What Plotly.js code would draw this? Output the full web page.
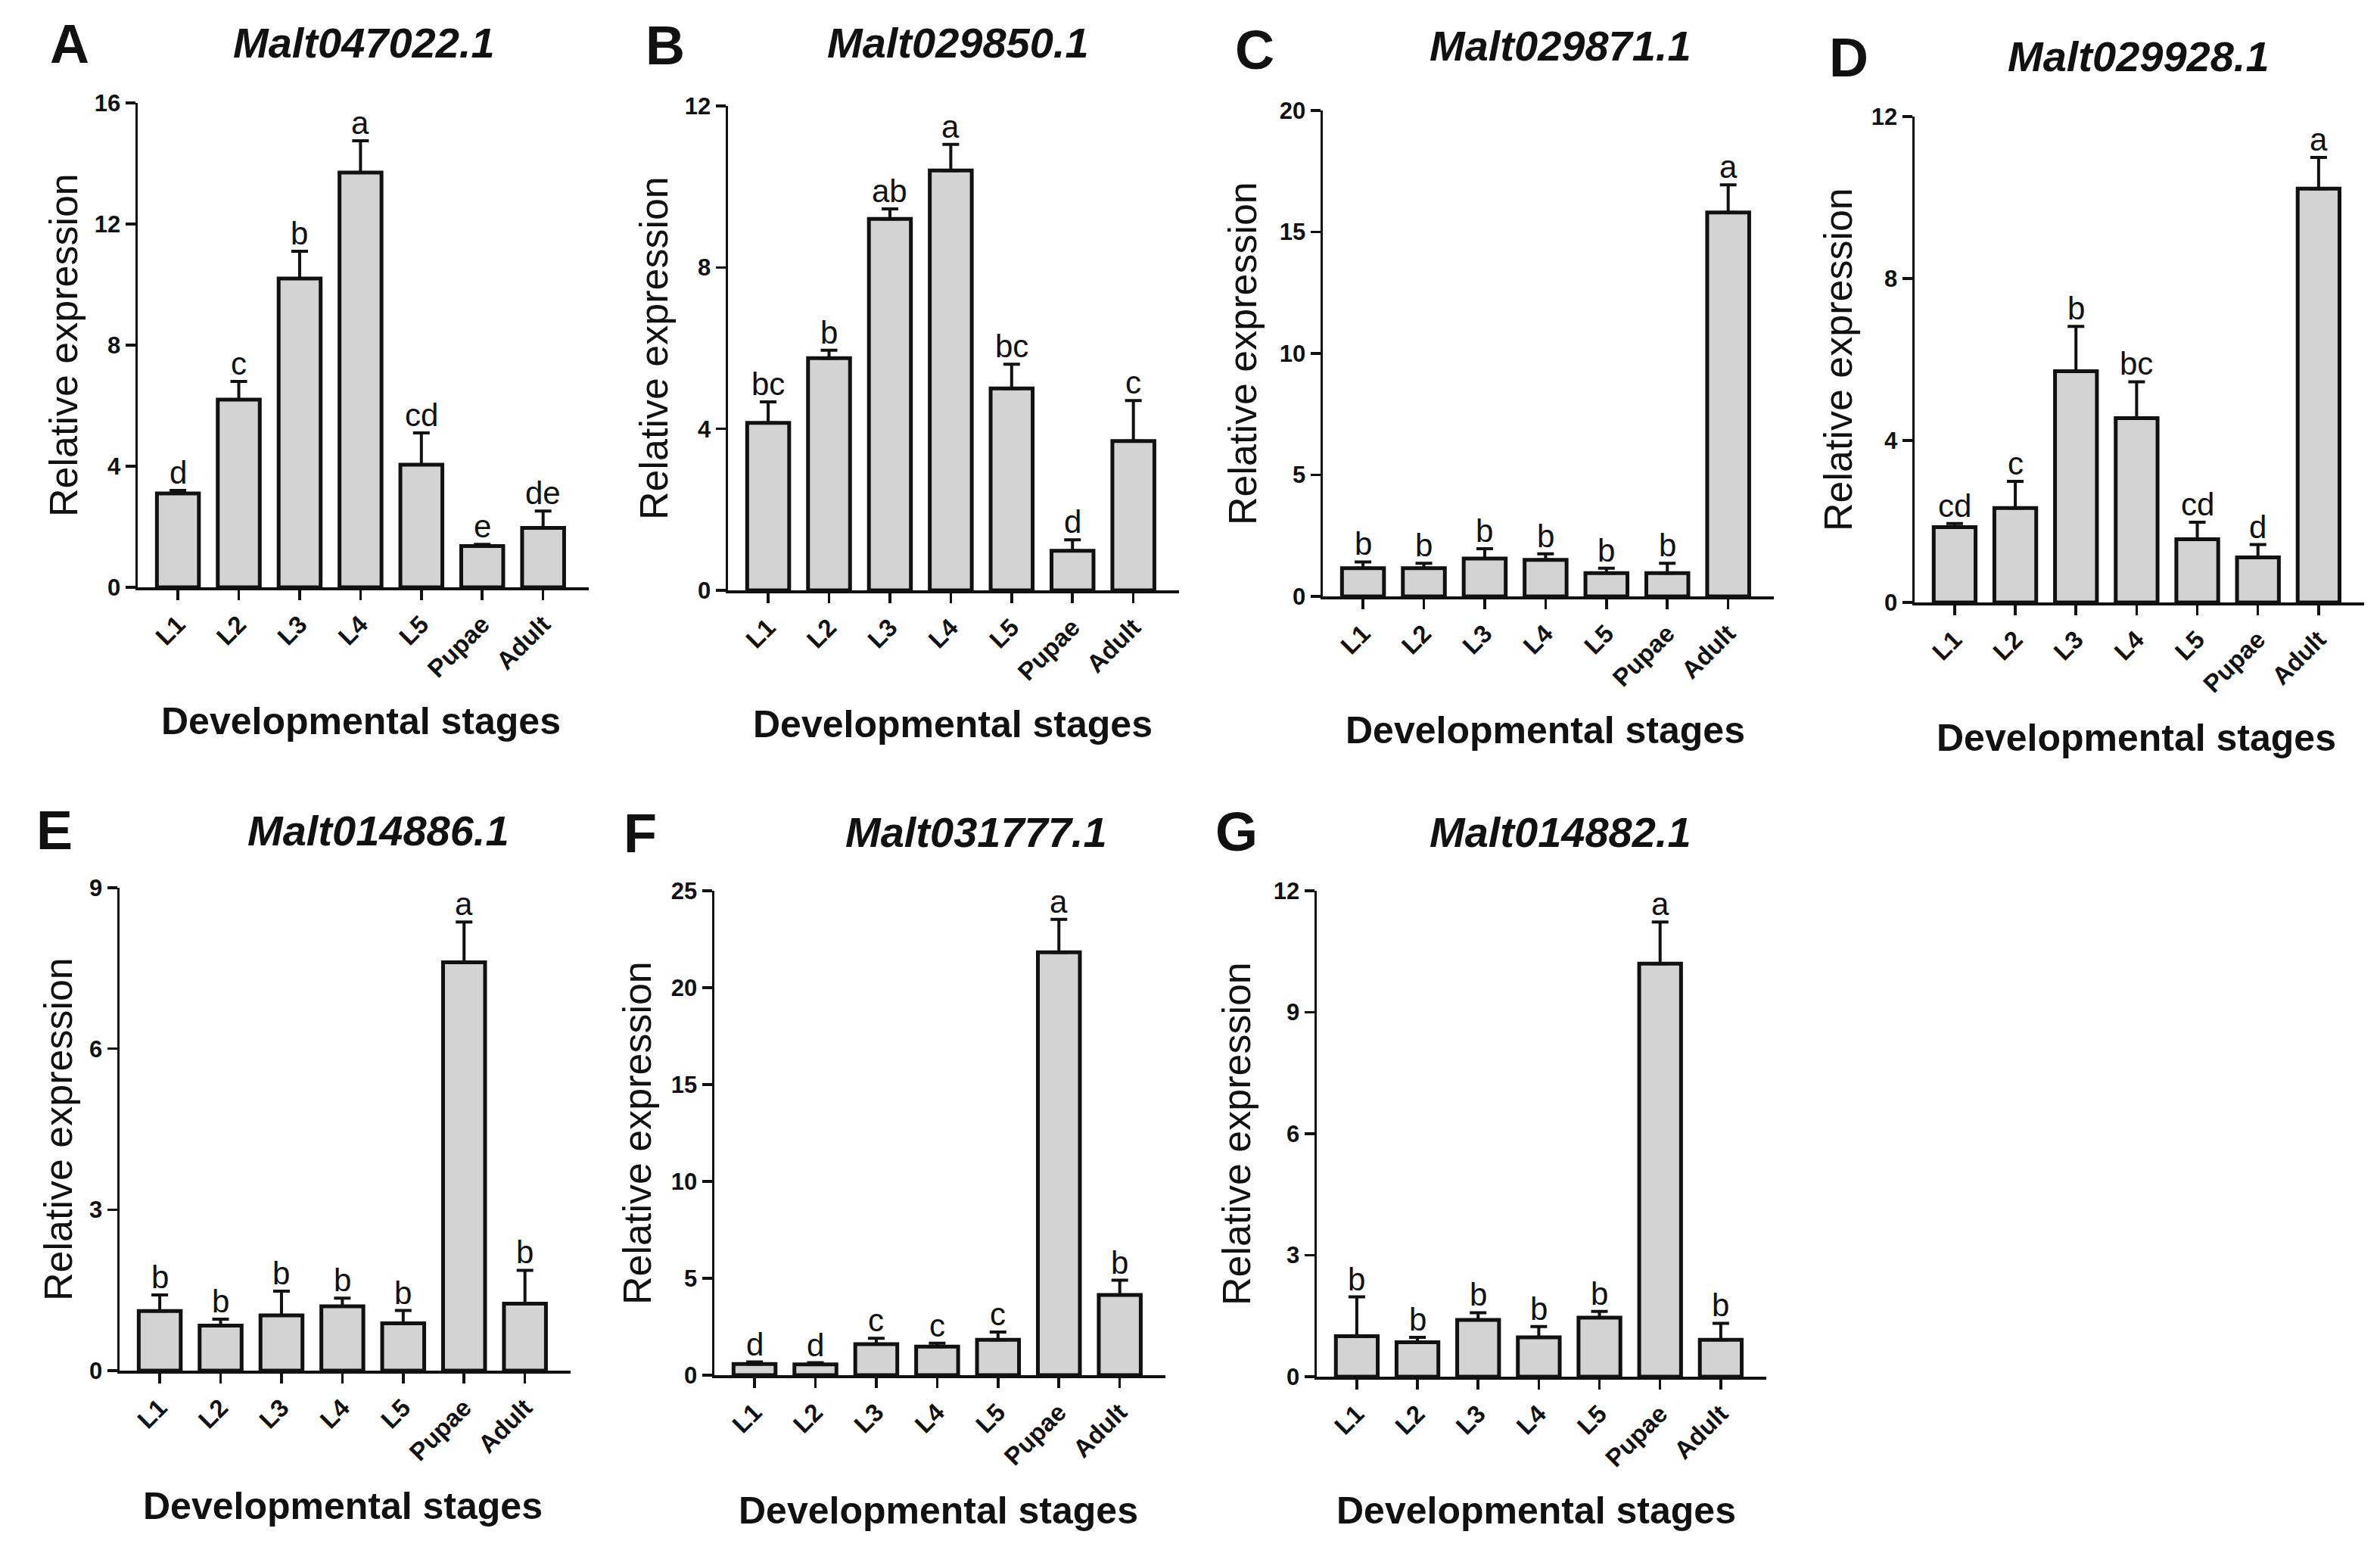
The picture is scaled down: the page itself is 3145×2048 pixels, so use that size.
<!DOCTYPE html>
<html>
<head>
<meta charset="utf-8">
<script src="https://cdn.plot.ly/plotly-3.0.1.min.js"></script>
<style>
  html, body { margin: 0; padding: 0; background: #fff; }
  #chart { width: 3145px; height: 2048px; }
</style>
</head>
<body>
<div id="chart"></div>
<script>
// stages on the x axis (same for every panel)
const stages = ["L1", "L2", "L3", "L4", "L5", "Pupae", "Adult"];

// A  Malt047022.1
const meanA = [3.1, 6.2, 10.2, 13.7, 4.05, 1.36, 1.96];
const errA  = [0.1, 0.6, 0.9, 1.05, 1.05, 0.06, 0.56];
const sigA  = ["d", "c", "b", "a", "cd", "e", "de"];

// B  Malt029850.1
const meanB = [4.15, 5.75, 9.2, 10.4, 5.0, 0.98, 3.7];
const errB  = [0.52, 0.2, 0.25, 0.65, 0.6, 0.27, 1.0];
const sigB  = ["bc", "b", "ab", "a", "bc", "d", "c"];

// C  Malt029871.1
const meanC = [1.16, 1.16, 1.56, 1.5, 0.96, 0.96, 15.8];
const errC  = [0.26, 0.2, 0.4, 0.25, 0.2, 0.4, 1.14];
const sigC  = ["b", "b", "b", "b", "b", "b", "a"];

// D  Malt029928.1
const meanD = [1.86, 2.33, 5.71, 4.55, 1.56, 1.11, 10.22];
const errD  = [0.09, 0.66, 1.11, 0.9, 0.42, 0.32, 0.77];
const sigD  = ["cd", "c", "b", "bc", "cd", "d", "a"];

// E  Malt014886.1
const meanE = [1.11, 0.84, 1.03, 1.2, 0.88, 7.61, 1.25];
const errE  = [0.3, 0.12, 0.45, 0.15, 0.24, 0.75, 0.62];
const sigE  = ["b", "b", "b", "b", "b", "a", "b"];

// F  Malt031777.1
const meanF = [0.58, 0.56, 1.6, 1.47, 1.83, 21.83, 4.14];
const errF  = [0.1, 0.08, 0.3, 0.18, 0.4, 1.7, 0.76];
const sigF  = ["d", "d", "c", "c", "c", "a", "b"];

// G  Malt014882.1
const meanG = [1.0, 0.85, 1.4, 0.97, 1.46, 10.2, 0.91];
const errG  = [0.97, 0.12, 0.18, 0.27, 0.15, 1.03, 0.41];
const sigG  = ["b", "b", "b", "b", "b", "a", "b"];

const W = 3145, H = 2048;
const FONT = "Liberation Sans, Arial, Helvetica, sans-serif";

// box: [left, right, y of zero, y of top] in page pixels
const panels = [
  {mean: meanA, err: errA, sig: sigA, gene: "Malt047022.1", tag: "A", ymax: 16, dtick: 4,
   box: [182, 778, 776, 136], title: [481, 56], tagPos: [92, 58], ytitle: [84, 456], xtitle: [477, 953]},
  {mean: meanB, err: errB, sig: sigB, gene: "Malt029850.1", tag: "B", ymax: 12, dtick: 4,
   box: [962, 1558, 780, 140], title: [1266, 56], tagPos: [879, 60], ytitle: [864, 460], xtitle: [1259, 957]},
  {mean: meanC, err: errC, sig: sigC, gene: "Malt029871.1", tag: "C", ymax: 20, dtick: 5,
   box: [1748, 2344, 788, 146], title: [2062, 60], tagPos: [1658, 66], ytitle: [1642, 467], xtitle: [2042, 965]},
  {mean: meanD, err: errD, sig: sigD, gene: "Malt029928.1", tag: "D", ymax: 12, dtick: 4,
   box: [2530, 3124, 796, 154], title: [2826, 74], tagPos: [2443, 76], ytitle: [2429, 475], xtitle: [2823, 975]},
  {mean: meanE, err: errE, sig: sigE, gene: "Malt014886.1", tag: "E", ymax: 9, dtick: 3,
   box: [158, 754, 1811, 1173], title: [500, 1097], tagPos: [72, 1097], ytitle: [77, 1492], xtitle: [453, 1990]},
  {mean: meanF, err: errF, sig: sigF, gene: "Malt031777.1", tag: "F", ymax: 25, dtick: 5,
   box: [944, 1540, 1817, 1177], title: [1290, 1099], tagPos: [846, 1101], ytitle: [842, 1497], xtitle: [1240, 1996]},
  {mean: meanG, err: errG, sig: sigG, gene: "Malt014882.1", tag: "G", ymax: 12, dtick: 3,
   box: [1740, 2334, 1819, 1177], title: [2062, 1099], tagPos: [1634, 1099], ytitle: [1634, 1498], xtitle: [2030, 1996]}
];

function px(x) { return x / W; }
function py(y) { return 1 - y / H; }

const data = [];
const annotations = [];
const layout = {
  width: W, height: H,
  margin: {l: 0, r: 0, t: 0, b: 0},
  paper_bgcolor: "#fff", plot_bgcolor: "#fff",
  showlegend: false,
  font: {family: FONT, color: "#111"},
  bargap: 0.31
};

panels.forEach(function(p, i) {
  const n = i === 0 ? "" : String(i + 1);
  const xa = "x" + n, ya = "y" + n;

  data.push({
    type: "bar",
    x: stages, y: p.mean,
    xaxis: xa, yaxis: ya,
    marker: {color: "#d3d3d3", line: {color: "#111", width: 5}},
    error_y: {
      type: "data", symmetric: false,
      array: p.err, arrayminus: p.mean.map(function() { return 0; }),
      color: "#111", thickness: 4, width: 11
    },
    hoverinfo: "skip"
  });

  layout["xaxis" + n] = {
    domain: [px(p.box[0]), px(p.box[1])],
    anchor: ya,
    range: [-0.66, 6.75],
    showline: true, linecolor: "#111", linewidth: 3.5,
    ticks: "outside", ticklen: 13, tickwidth: 3.5, tickcolor: "#111",
    tickangle: -45, showgrid: false, zeroline: false,
    tickfont: {family: FONT, size: 33, weight: "bold", color: "#111"},
    fixedrange: true
  };
  layout["yaxis" + n] = {
    domain: [py(p.box[2]), py(p.box[3])],
    anchor: xa,
    range: [0, p.ymax], dtick: p.dtick, tick0: 0,
    showline: true, linecolor: "#111", linewidth: 3.5,
    ticks: "outside", ticklen: 13, tickwidth: 3.5, tickcolor: "#111",
    showgrid: false, zeroline: false,
    tickfont: {family: FONT, size: 31, weight: "bold", color: "#111"},
    fixedrange: true
  };

  // significance letters above each error bar
  stages.forEach(function(s, k) {
    annotations.push({
      xref: xa, yref: ya, x: s, y: p.mean[k] + p.err[k],
      text: p.sig[k], showarrow: false, yanchor: "bottom", yshift: -2,
      font: {family: FONT, size: 42, color: "#111"}
    });
  });

  annotations.push({
    xref: "paper", yref: "paper", x: px(p.title[0]), y: py(p.title[1]),
    text: "<b><i>" + p.gene + "</i></b>", showarrow: false,
    xanchor: "center", yanchor: "middle",
    font: {family: FONT, size: 56, color: "#111"}
  });
  annotations.push({
    xref: "paper", yref: "paper", x: px(p.tagPos[0]), y: py(p.tagPos[1]),
    text: "<b>" + p.tag + "</b>", showarrow: false,
    xanchor: "center", yanchor: "middle",
    font: {family: FONT, size: 72, color: "#111"}
  });
  annotations.push({
    xref: "paper", yref: "paper", x: px(p.ytitle[0]), y: py(p.ytitle[1]),
    text: "Relative expression", showarrow: false, textangle: -90,
    xanchor: "center", yanchor: "middle",
    font: {family: FONT, size: 52, color: "#111"}
  });
  annotations.push({
    xref: "paper", yref: "paper", x: px(p.xtitle[0]), y: py(p.xtitle[1]),
    text: "<b>Developmental stages</b>", showarrow: false,
    xanchor: "center", yanchor: "middle",
    font: {family: FONT, size: 50, color: "#111"}
  });
});

layout.annotations = annotations;

Plotly.newPlot("chart", data, layout, {staticPlot: true, displayModeBar: false});
</script>
</body>
</html>
